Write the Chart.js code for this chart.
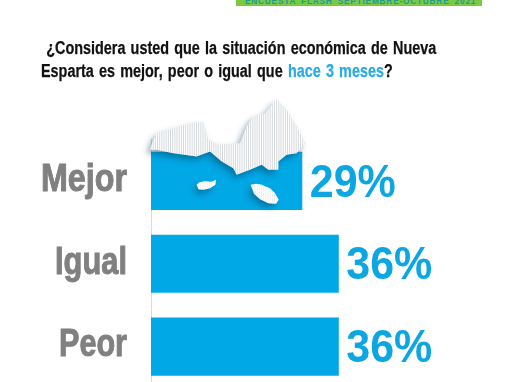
<!DOCTYPE html>
<html lang="es">
<head>
<meta charset="utf-8">
<title>Encuesta Flash</title>
<style>
  html, body { margin: 0; padding: 0; background: #fff; overflow: hidden; }
  #page { position: relative; width: 510px; height: 382px; overflow: hidden; }
  #banner { position: absolute; left: 236px; top: -6px; width: 237px; height: 12px; padding-left: 9px; background: #7ac943; color: #1b9aa0;
    font: bold 8.2px "Liberation Sans", sans-serif; line-height: 16px; letter-spacing: 0.85px; word-spacing: 2px; white-space: nowrap; }
  #question { position: absolute; left: 41px; top: 37px; color: #111; font: bold 18px/22.5px "Liberation Sans", sans-serif; white-space: nowrap; word-spacing: 1.5px;
    transform: scaleX(0.8); transform-origin: left top; -webkit-text-stroke: 0.25px #111; }
  #question span { color: #29abe2; -webkit-text-stroke: 0.25px #29abe2; }
  canvas { position: absolute; left: 0; top: 0; }
</style>
<script src="https://cdn.jsdelivr.net/npm/chart.js@4"></script>
</head>
<body>
<div id="page">
  <canvas id="chart" width="510" height="388"></canvas>
  <div id="banner">ENCUESTA FLASH SEPTIEMBRE-OCTUBRE 2021</div>
  <div id="question">&nbsp;¿Considera usted que la situación económica de Nueva<br>Esparta es mejor, peor o igual que <span>hace 3 meses</span>?</div>
</div>
<script>
const categories = ['Mejor', 'Igual', 'Peor'];
const percentages = [29, 36, 36];
const labelWidths = [86, 72, 68];

// map of the state sitting on the first bar (3x units)
const LAND = [[60,180],[66,160],[80,130],[130,115],[185,100],[220,95],[235,150],[270,165],[330,160],[350,110],[370,80],[405,70],[440,28],[470,60],[500,110],[525,160],[500,190],[470,195],[445,215],[445,240],[415,240],[395,225],[360,240],[320,255],[310,235],[275,215],[240,185],[200,200],[130,190],[80,180]];
const ISLAND_A = [[200,285],[208,277],[225,274],[245,276],[258,270],[256,285],[240,295],[220,300],[205,298]];
const ISLAND_B = [[362,285],[378,282],[395,285],[420,295],[435,310],[446,330],[438,342],[415,340],[390,328],[372,312]];

function tracePath(ctx, pts) {
  ctx.beginPath();
  pts.forEach((p, i) => i ? ctx.lineTo(p[0], p[1]) : ctx.moveTo(p[0], p[1]));
  ctx.closePath();
}

const mapPlugin = {
  id: 'mapPlugin',
  afterDatasetsDraw(chart) {
    const bar = chart.getDatasetMeta(0).data[0];
    const ctx = chart.ctx;
    ctx.save();
    ctx.translate(bar.base - 21, bar.y - bar.height / 2 - 62);
    ctx.scale(1 / 3, 1 / 3);
    [LAND, ISLAND_A, ISLAND_B].forEach(pts => {
      ctx.save();
      ctx.shadowColor = 'rgba(0,60,90,0.45)';
      ctx.shadowBlur = 6;
      ctx.shadowOffsetX = -3;
      ctx.shadowOffsetY = 4;
      tracePath(ctx, pts);
      ctx.fillStyle = '#fff';
      ctx.fill();
      ctx.restore();
      ctx.save();
      tracePath(ctx, pts);
      ctx.clip();
      ctx.strokeStyle = pts === LAND ? '#c4c9cd' : '#e6e9eb';
      ctx.lineWidth = 2.2;
      for (let x = 50; x < 540; x += 6.5) {
        ctx.beginPath();
        ctx.moveTo(x, 0);
        ctx.lineTo(x, 360);
        ctx.stroke();
      }
      ctx.restore();
    });
    ctx.restore();
  }
};

// condensed grey category labels and the blue percentages
const textLabels = {
  id: 'textLabels',
  afterDatasetsDraw(chart) {
    const ctx = chart.ctx;
    const yScale = chart.scales.y;
    ctx.save();
    ctx.textBaseline = 'middle';
    ctx.textAlign = 'right';
    ctx.fillStyle = '#808080';
    ctx.strokeStyle = '#808080';
    ctx.lineWidth = 1;
    ctx.font = 'bold 39px "Liberation Sans", sans-serif';
    categories.forEach((c, i) => {
      const y = yScale.getPixelForTick(i) - 1;
      ctx.fillText(c, 127, y, labelWidths[i]);
      ctx.strokeText(c, 127, y, labelWidths[i]);
    });
    ctx.textAlign = 'left';
    ctx.fillStyle = '#0ca6e2';
    ctx.font = 'bold 46px "Liberation Sans", sans-serif';
    chart.getDatasetMeta(0).data.forEach((bar, i) => {
      ctx.fillText(percentages[i] + '%', bar.x + 7.5, bar.y + 3, 86);
    });
    ctx.restore();
  }
};

new Chart(document.getElementById('chart'), {
  type: 'bar',
  data: {
    labels: categories,
    datasets: [{ data: percentages, backgroundColor: '#00a8e6', borderWidth: 0, barPercentage: 0.703, categoryPercentage: 1 }]
  },
  options: {
    indexAxis: 'y',
    responsive: false,
    animation: false,
    layout: { padding: { top: 139.5, right: 46 } },
    plugins: { legend: { display: false }, tooltip: { enabled: false } },
    scales: {
      x: { display: false, min: 0, max: 60 },
      y: {
        afterFit: (s) => { s.width = 151; },
        grid: { display: false, drawTicks: false },
        border: { color: '#d9d9d9', width: 1 },
        ticks: { display: false }
      }
    }
  },
  plugins: [textLabels, mapPlugin]
});
</script>
</body>
</html>
